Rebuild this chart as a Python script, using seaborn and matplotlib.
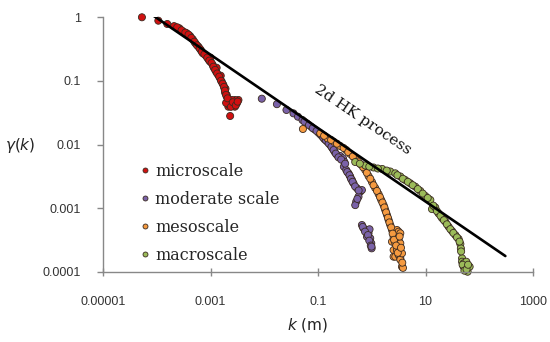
import numpy as np
import pandas as pd
import matplotlib
matplotlib.use("Agg")
import matplotlib.pyplot as plt
import seaborn as sns

# ---------------- data ----------------
micro_k = [5.3e-5, 1.07e-4, 1.57e-4, 2.1e-4, 2.64e-4, 3.12e-4, 3.62e-4, 4.17e-4, 4.68e-4,
           5.24e-4, 5.96e-4, 6.59e-4, 7.2e-4, 8.28e-4, 9.14e-4, 9.85e-4, 1.1e-3, 1.17e-3,
           1.27e-3, 1.4e-3, 1.51e-3, 1.62e-3, 1.74e-3, 1.82e-3, 1.87e-3, 2.01e-3, 2.15e-3,
           2.32e-3, 2.67e-3, 3.09e-3, 3.31e-3, 2.32e-3, 2.15e-3, 2.84e-3, 2.87e-3,
           1.0e-3, 1.3e-3, 1.55e-3, 1.9e-3, 2.0e-3, 2.5e-3, 2.2e-3, 1.95e-3,
           2.4e-4, 2.9e-4, 3.4e-4, 3.9e-4, 4.4e-4, 5.0e-4, 5.6e-4, 6.3e-4, 6.9e-4, 7.7e-4,
           8.7e-4, 9.5e-4, 1.05e-3, 1.13e-3, 1.22e-3, 1.33e-3, 1.45e-3, 1.57e-3, 1.68e-3,
           1.78e-3, 1.85e-3, 1.94e-3, 2.08e-3, 2.4e-3, 2.6e-3, 2.95e-3, 3.2e-3]
micro_g = [0.99, 0.875, 0.777, 0.72, 0.665, 0.588, 0.555, 0.503, 0.447,
           0.387, 0.342, 0.304, 0.27, 0.245, 0.217, 0.199, 0.177, 0.157,
           0.139, 0.123, 0.109, 0.0966, 0.0858, 0.0762, 0.065, 0.0562, 0.0499,
           0.0443, 0.0417, 0.0443, 0.0499, 0.028, 0.0392, 0.0392, 0.0499,
           0.23, 0.16, 0.12, 0.075, 0.06, 0.05, 0.042, 0.045,
           0.69, 0.62, 0.57, 0.53, 0.47, 0.41, 0.36, 0.32, 0.285, 0.26,
           0.23, 0.207, 0.19, 0.166, 0.148, 0.13, 0.116, 0.1, 0.09,
           0.08, 0.07, 0.06, 0.053, 0.039, 0.046, 0.041, 0.047]

moderate_k = [9.0e-3, 0.0172, 0.0259, 0.035, 0.0423, 0.0514, 0.0621, 0.0746, 0.0861, 0.102,
              0.118, 0.132, 0.148, 0.169, 0.186, 0.203, 0.225, 0.259, 0.291, 0.308, 0.303,
              0.335, 0.37, 0.398, 0.428, 0.458, 0.53, 0.611, 0.656, 0.567, 0.514, 0.493,
              0.656, 0.703, 0.791, 0.871, 0.937, 0.98, 0.995, 0.815, 0.91,
              0.056, 0.068, 0.08, 0.094, 0.11, 0.125, 0.14, 0.158, 0.178, 0.195, 0.214,
              0.24, 0.27, 0.32, 0.35, 0.385, 0.41, 0.44, 0.49, 0.57, 0.54,
              0.68, 0.75, 0.85, 0.9, 0.96, 0.99]
moderate_g = [0.0523, 0.0429, 0.0348, 0.0308, 0.0273, 0.0242, 0.0215, 0.019, 0.0173, 0.0153,
              0.0136, 0.0121, 0.0111, 0.0098, 0.0087, 0.0077, 0.00685, 0.0066, 0.00608, 0.00537, 0.00449,
              0.00398, 0.00353, 0.00313, 0.00277, 0.00246, 0.00206, 0.00182, 0.00193, 0.00152, 0.00127, 0.00112,
              5.46e-4, 4.84e-4, 4.56e-4, 4.05e-4, 3.38e-4, 2.82e-4, 2.35e-4, 3.58e-4, 4.68e-4,
              0.0228, 0.0202, 0.018, 0.0163, 0.0144, 0.0128, 0.0116, 0.0104, 0.0092, 0.0082, 0.0072,
              0.0063, 0.0058, 0.0050, 0.0037, 0.0033, 0.0029, 0.0026, 0.0022, 0.0019, 0.0014,
              5.1e-4, 4.3e-4, 3.8e-4, 3.1e-4, 2.6e-4, 2.5e-4]

meso_k = [0.0524, 0.11, 0.15, 0.195, 0.259, 0.335, 0.398, 0.493, 0.63, 0.757, 0.871, 1.01,
          1.16, 1.34, 1.5, 1.66, 1.78, 1.92, 2.06, 2.21,
          2.38, 2.38, 2.55, 2.55, 2.55, 2.74, 2.74, 2.94, 2.94, 2.94,
          3.16, 3.16, 3.16, 3.16, 3.4, 3.4, 3.4, 3.4, 3.65, 3.65, 3.81,
          0.13, 0.175, 0.225, 0.3, 0.365, 0.445, 0.56, 0.69, 0.81, 0.94, 1.08, 1.25,
          1.42, 1.58, 1.72, 1.85, 2.0, 2.13, 2.3, 2.45, 2.6, 2.85, 3.05, 3.3, 3.5, 3.7]
meso_g = [0.0175, 0.015, 0.0125, 0.0111, 0.00947, 0.0082, 0.0071, 0.00593, 0.00486, 0.00398, 0.0032, 0.00258,
          0.00208, 0.00167, 0.00135, 0.00112, 9.4e-4, 7.84e-4, 6.54e-4, 5.46e-4,
          4.56e-4, 2.99e-4, 3.58e-4, 2.21e-4, 1.74e-4, 2.82e-4, 1.74e-4, 4.56e-4, 3.58e-4, 2.21e-4,
          4.29e-4, 3.18e-4, 2.49e-4, 1.85e-4, 4.05e-4, 2.82e-4, 1.64e-4, 1.56e-4, 1.96e-4, 1.21e-4, 1.16e-4,
          0.0137, 0.0118, 0.0103, 0.0088, 0.0076, 0.0065, 0.0054, 0.0044, 0.0036, 0.0029, 0.0023, 0.00187,
          0.0015, 0.00123, 0.00103, 8.6e-4, 7.1e-4, 6.0e-4, 5.0e-4, 4.0e-4, 3.2e-4, 2.6e-4, 2.0e-4, 3.6e-4,
          2.4e-4, 1.4e-4]

macro_k = [0.493, 0.757, 1.08, 1.57, 2.21, 2.74, 3.4, 4.2, 5.21, 6.46, 8.0, 9.9, 12.3, 13.2, 15.2,
           17.5, 20.3, 23.4, 26.9, 31.1, 35.9, 41.3, 44.5, 45.5, 47.9, 47.9, 51.2, 51.2, 55.1,
           57.5, 60.8, 66.2,
           0.6, 0.9, 1.3, 1.9, 3.0, 3.8, 4.7, 5.8, 7.2, 8.9, 11.0, 14.0, 16.3, 19.0, 22.0,
           25.0, 29.0, 33.0, 38.5, 43.0, 46.0, 49.0, 53.0, 58.0, 62.0]
macro_g = [0.00531, 0.00469, 0.00436, 0.00413, 0.00377, 0.00353, 0.00315, 0.00277, 0.00246, 0.00218,
           0.00187, 0.00156, 0.00135, 9.7e-4, 1.03e-3, 8.3e-4, 7.0e-4, 6.15e-4, 5.14e-4, 4.4e-4, 3.8e-4,
           3.3e-4, 2.75e-4, 2.35e-4, 1.64e-4, 1.45e-4, 1.37e-4, 1.21e-4, 1.14e-4, 1.45e-4, 1.01e-4, 1.21e-4,
           0.005, 0.0045, 0.0042, 0.0039, 0.0033, 0.0029, 0.0026, 0.0023, 0.002, 0.0017, 0.00145,
           1.1e-3, 9.0e-4, 7.6e-4, 6.5e-4, 5.6e-4, 4.7e-4, 4.1e-4, 3.5e-4, 3.0e-4, 2.1e-4, 1.3e-4,
           1.05e-4, 1.1e-4, 1.3e-4]

hk_k = [6.05e-5, 306.0]
hk_g = [1.29, 1.78e-4]

series_names = ["microscale", "moderate scale", "mesoscale", "macroscale"]
series_colors = ["#d01010", "#7a62a8", "#f59a40", "#9bbb59"]

x_ticks = [1e-5, 1e-3, 1e-1, 1e1, 1e3]
x_tick_labels = ["0.00001", "0.001", "0.1", "10", "1000"]
y_ticks = [1e-4, 1e-3, 1e-2, 1e-1, 1]
y_tick_labels = ["0.0001", "0.001", "0.01", "0.1", "1"]

# ---------------- build frame ----------------
frames = []
for name, ks, gs in zip(series_names, [micro_k, moderate_k, meso_k, macro_k],
                        [micro_g, moderate_g, meso_g, macro_g]):
    frames.append(pd.DataFrame({"k": ks, "gamma": gs, "scale": name}))
df = pd.concat(frames, ignore_index=True)

# ---------------- plot ----------------
sns.set_theme(style="ticks")
plt.rcParams["font.family"] = ["DejaVu Sans"]
plt.rcParams["mathtext.fontset"] = "dejavusans"

fig = plt.figure(figsize=(5.5, 3.42), dpi=100)
ax = fig.add_axes([103 / 550, 1 - 272 / 342, (533 - 103) / 550, (272 - 17) / 342])

sns.scatterplot(data=df, x="k", y="gamma", hue="scale", hue_order=series_names,
                palette=series_colors, s=26, edgecolor="#3a2a20", linewidth=0.6,
                ax=ax, zorder=2, clip_on=False)
ax.plot(hk_k, hk_g, color="black", lw=1.9, zorder=3)

ax.set_xscale("log")
ax.set_yscale("log")
ax.set_xlim(1e-5, 1e3)
ax.set_ylim(1e-4, 1)
ax.set_xticks(x_ticks)
ax.set_xticklabels(x_tick_labels)
ax.set_yticks(y_ticks)
ax.set_yticklabels(y_tick_labels)
ax.minorticks_off()
ax.tick_params(axis="x", direction="inout", length=6, width=1, color="#888888",
               pad=14, labelsize=9, labelcolor="#333333")
ax.tick_params(axis="y", direction="out", length=4, width=1, color="#888888",
               pad=12, labelsize=9, labelcolor="#333333")
for lab in ax.get_xticklabels() + ax.get_yticklabels():
    lab.set_family("Liberation Sans")
sns.despine(ax=ax)
for sp in ["left", "bottom"]:
    ax.spines[sp].set_color("#888888")
    ax.spines[sp].set_linewidth(1.0)
ax.set_xlabel("")
ax.set_ylabel("")

fig.text(20 / 550, 1 - 145 / 342, r"$\gamma(k)$", ha="center", va="center",
         fontsize=11, color="#222222")
fig.text(308 / 550, 1 - 325 / 342, r"$k$ (m)", ha="center", va="center",
         fontsize=11, color="#222222")

ax.text(363 / 550, 1 - 120 / 342, "2d HK process", transform=fig.transFigure,
        ha="center", va="center", rotation=-34, rotation_mode="anchor",
        fontsize=11, family="DejaVu Serif", color="#111111")

leg = ax.legend(loc="upper left", bbox_to_anchor=(137 / 550, 1 - 163 / 342),
                bbox_transform=fig.transFigure, frameon=False, title=None,
                prop={"family": "DejaVu Serif", "size": 11.5},
                markerscale=0.7, handletextpad=0.15, labelspacing=0.68,
                borderpad=0, borderaxespad=0, handlelength=1.0)

fig.savefig("out.png", dpi=100)
